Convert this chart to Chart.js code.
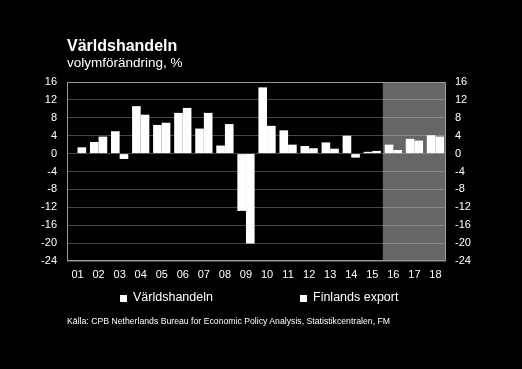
<!DOCTYPE html>
<html lang="sv">
<head>
    <meta charset="UTF-8">
    <title>Världshandeln</title>
    <script src="https://cdn.jsdelivr.net/npm/chart.js"></script>
    <style>
        body { margin: 0; background: #000; }
        #wrap { position: relative; width: 522px; height: 369px; background: #000; font-family: "Liberation Sans", Arial, sans-serif; color: #fff; }
        #chart { position: absolute; left: 0; top: 0; }
        .txt { position: absolute; white-space: nowrap; }
        .sq { position: absolute; width: 7px; height: 7px; background: #fff; }
    </style>
</head>
<body>
<div id="wrap">
    <canvas id="chart" width="522" height="369"></canvas>
    <div class="txt" style="left:67px; top:37px; font-size:16px; font-weight:bold;">Världshandeln</div>
    <div class="txt" style="left:67px; top:55px; font-size:13.5px;">volymförändring, %</div>
    <div class="sq" style="left:120px; top:295px;"></div>
    <div class="txt" style="left:133px; top:290px; font-size:12.5px;" id="leg0"></div>
    <div class="sq" style="left:300px; top:295px;"></div>
    <div class="txt" style="left:313px; top:290px; font-size:12.5px;" id="leg1"></div>
    <div class="txt" style="left:67px; top:316px; font-size:8.7px;">Källa: CPB Netherlands Bureau for Economic Policy Analysis, Statistikcentralen, FM</div>
</div>
<script>
// years on the x axis
const years = ['01', '02', '03', '04', '05', '06', '07', '08', '09',
               '10', '11', '12', '13', '14', '15', '16', '17', '18'];
const seriesNames = ['Världshandeln', 'Finlands export'];
// volume change, %
const varldshandeln = [0.0, 2.6, 5.0, 10.6, 6.4, 9.1, 5.6, 1.8, -12.8,
                       14.8, 5.2, 1.7, 2.5, 4.0, 0.4, 2.0, 3.3, 4.1];
const finlandsExport = [1.4, 3.8, -1.2, 8.7, 6.9, 10.2, 9.1, 6.6, -20.1,
                        6.2, 2.0, 1.2, 1.1, -0.9, 0.6, 0.8, 2.9, 3.8];
const yMin = -24, yMax = 16, yStep = 4;
const forecastFrom = '16'; // shaded forecast years

document.getElementById('leg0').textContent = seriesNames[0];
document.getElementById('leg1').textContent = seriesNames[1];

const gridColor = 'rgba(200, 200, 200, 0.35)';
const frameColor = '#9a9a9a';
const tickFont = { family: '"Liberation Sans", Arial, sans-serif', size: 11 };

// gray box behind forecast years + frame around plot area
const forecastShade = {
    id: 'forecastShade',
    beforeDraw(chart) {
        const { ctx, chartArea, scales } = chart;
        const x = scales.x;
        const i = years.indexOf(forecastFrom);
        const step = x.getPixelForValue(1) - x.getPixelForValue(0);
        const left = x.getPixelForValue(i) - step / 2;
        ctx.save();
        ctx.fillStyle = '#666666';
        ctx.fillRect(left, chartArea.top, chartArea.right - left, chartArea.bottom - chartArea.top);
        ctx.restore();
    },
    beforeDatasetsDraw(chart) {
        const { ctx, chartArea } = chart;
        ctx.save();
        ctx.strokeStyle = frameColor;
        ctx.lineWidth = 1;
        ctx.strokeRect(Math.round(chartArea.left) + 0.5, Math.round(chartArea.top) + 0.5,
            Math.round(chartArea.right - chartArea.left) - 1, Math.round(chartArea.bottom - chartArea.top) - 1);
        ctx.restore();
    }
};

new Chart(document.getElementById('chart').getContext('2d'), {
    type: 'bar',
    data: {
        labels: years,
        datasets: [
            { label: seriesNames[0], data: varldshandeln, backgroundColor: '#ffffff', borderWidth: 0 },
            { label: seriesNames[1], data: finlandsExport, backgroundColor: '#ffffff', borderWidth: 0 }
        ]
    },
    options: {
        responsive: false,
        animation: false,
        layout: { padding: { top: 82, bottom: 88, left: 0, right: 0 } },
        datasets: { bar: { categoryPercentage: 0.82, barPercentage: 1.0 } },
        plugins: { legend: { display: false }, tooltip: { enabled: false } },
        scales: {
            x: {
                grid: { display: false, drawTicks: false },
                border: { display: false },
                ticks: { color: '#ffffff', font: tickFont, padding: 7, maxRotation: 0 },
                afterFit(scale) { scale.height = 20; }
            },
            y: {
                position: 'left',
                min: yMin, max: yMax,
                grid: { color: gridColor, drawTicks: false },
                border: { display: false },
                ticks: { stepSize: yStep, color: '#ffffff', font: tickFont, padding: 10 },
                afterFit(scale) { scale.width = 67; }
            },
            y2: {
                position: 'right',
                min: yMin, max: yMax,
                grid: { display: false, drawTicks: false },
                border: { display: false },
                ticks: { stepSize: yStep, color: '#ffffff', font: tickFont, padding: 9 },
                afterFit(scale) { scale.width = 76; }
            }
        }
    },
    plugins: [forecastShade]
});
</script>
</body>
</html>
